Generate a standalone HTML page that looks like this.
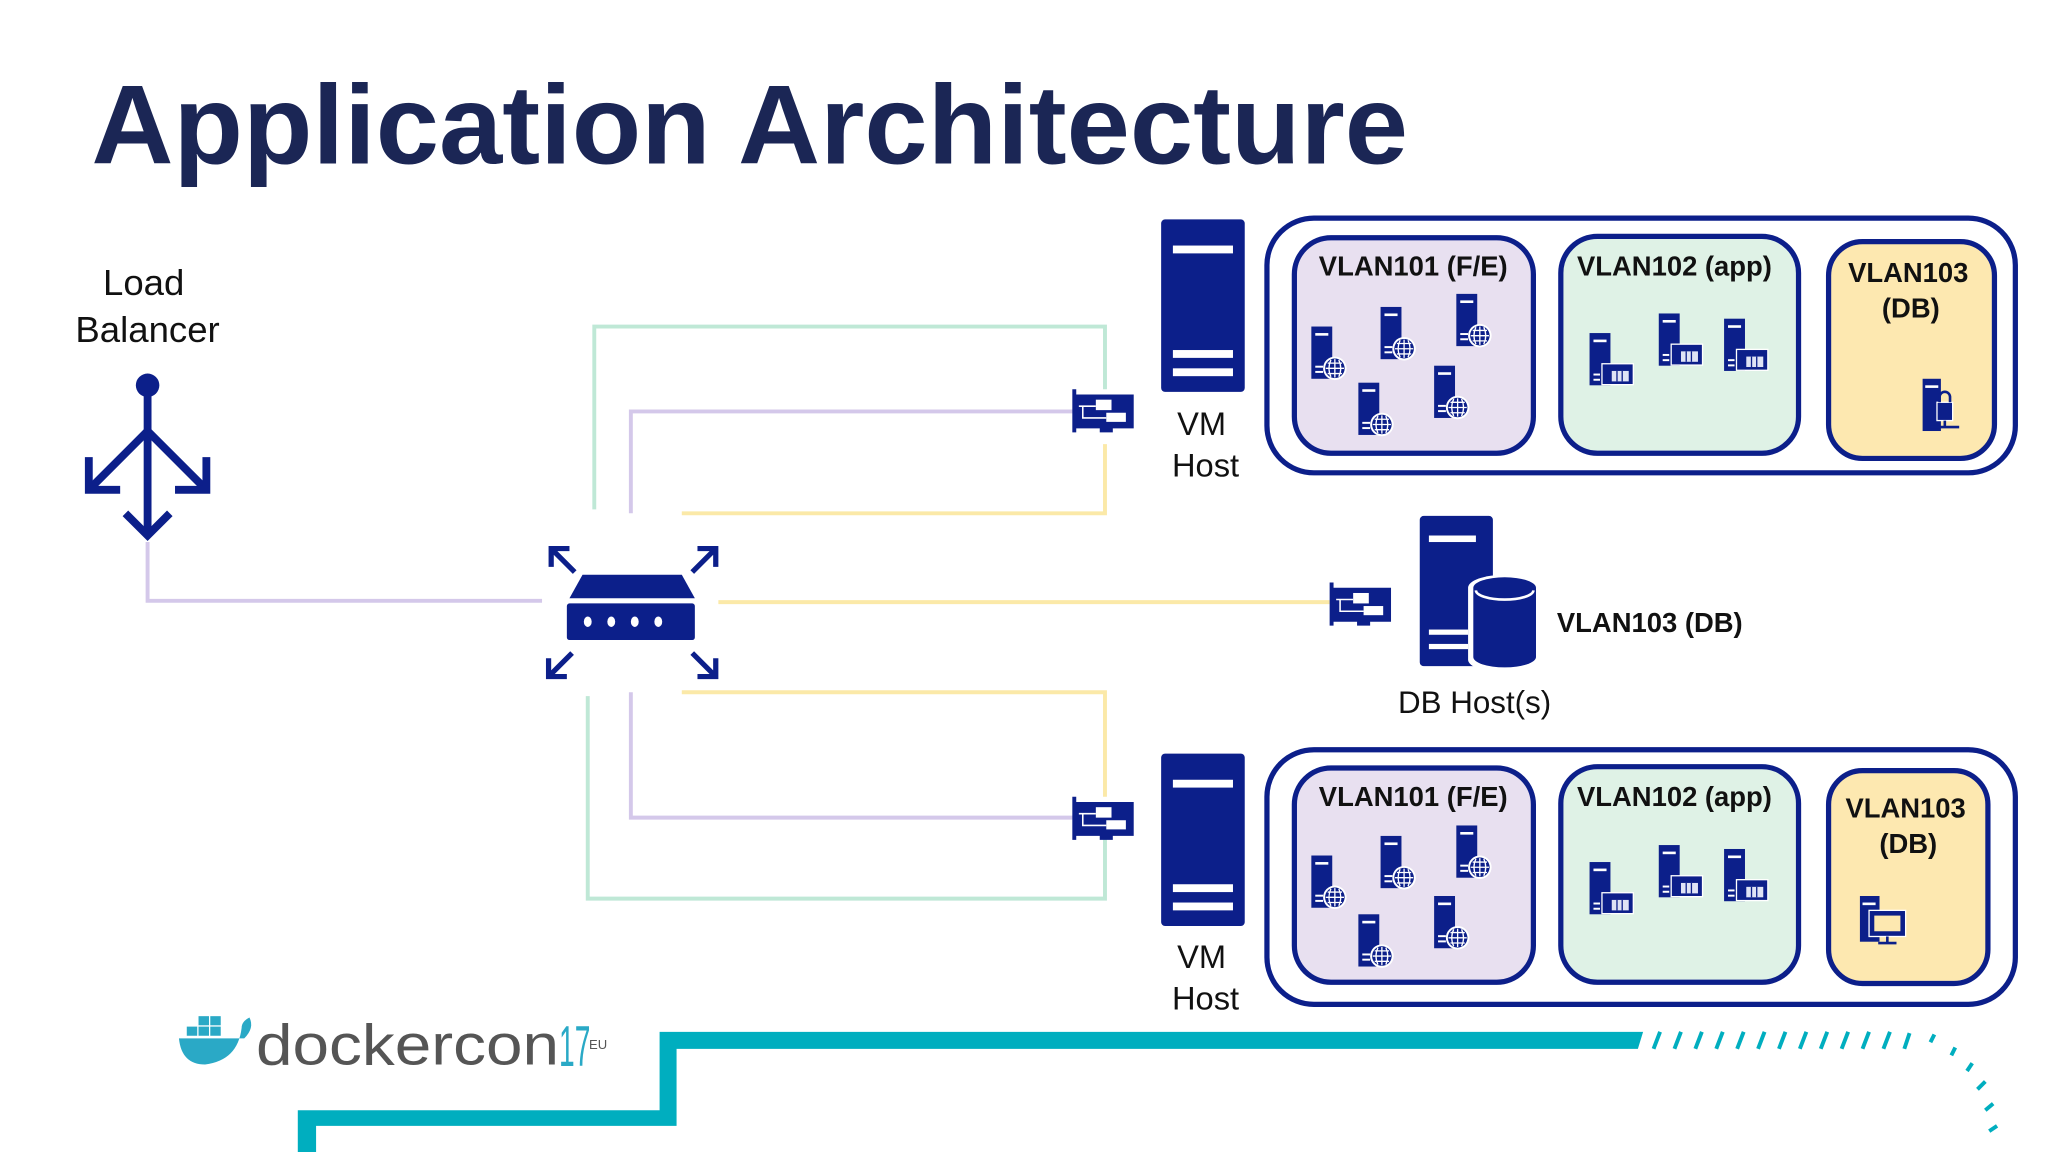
<!DOCTYPE html>
<html><head><meta charset="utf-8"><style>
html,body{margin:0;padding:0;background:#fff;}
svg{display:block;}
text{font-family:"Liberation Sans",Arial,sans-serif;}
</style></head><body>
<svg width="2048" height="1152" viewBox="0 0 1568 882" xmlns="http://www.w3.org/2000/svg">
<defs>
  <g id="web">
    <rect x="0" y="0" width="16" height="40" fill="#0c1f8a"/>
    <rect x="3" y="5" width="10" height="2" fill="#fff"/>
    <rect x="3" y="30" width="6" height="1.5" fill="#fff"/>
    <rect x="3" y="34" width="6" height="1.5" fill="#fff"/>
    <circle cx="18" cy="32" r="9" fill="#fff"/>
    <circle cx="18" cy="32" r="7.5" fill="#0c1f8a"/>
    <path d="M11 32h14M18 25v14M12.5 28h11M12.5 36h11M15 25.5q-3 6.5 0 13M21 25.5q3 6.5 0 13" stroke="#fff" stroke-width="1" fill="none"/>
  </g>
  <g id="app">
    <rect x="0" y="0" width="16" height="40" fill="#0c1f8a"/>
    <rect x="3" y="5" width="10" height="2" fill="#fff"/>
    <rect x="9" y="23" width="25" height="17" fill="#fff"/>
    <rect x="10" y="24" width="23" height="15" fill="#0c1f8a"/>
    <rect x="17" y="29" width="13" height="8" fill="#dfe3f5"/>
    <path d="M21 29v8M25 29v8" stroke="#0c1f8a" stroke-width="1"/>
    <rect x="3" y="31" width="5" height="1.5" fill="#fff"/>
    <rect x="3" y="35" width="5" height="1.5" fill="#fff"/>
  </g>
  <g id="nic">
    <path d="M0 0h3v4h44v26h-16v3h-10v-3h-18v3h-3z" fill="#0c1f8a"/>
    <rect x="18" y="8" width="12" height="8" fill="#fff"/>
    <rect x="26" y="18" width="15" height="7" fill="#fff"/>
    <path d="M5 13h13M8 13v9h18" stroke="#fff" stroke-width="1.2" fill="none"/>
  </g>
  <g id="srv">
    <rect x="0" y="0" width="64" height="132" rx="3" fill="#0c1f8a"/>
    <rect x="9" y="20" width="46" height="6" fill="#fff"/>
    <rect x="9" y="100" width="46" height="6" fill="#fff"/>
    <rect x="9" y="114" width="46" height="6" fill="#fff"/>
  </g>
</defs>

<rect width="1568" height="882" fill="#fff"/>

<text x="70" y="125" font-size="86" font-weight="bold" fill="#1b2655" textLength="1008" lengthAdjust="spacingAndGlyphs">Application Architecture</text>

<!-- Load balancer -->
<text x="110" y="226" font-size="28" text-anchor="middle" fill="#111">Load</text>
<text x="113" y="262" font-size="28" text-anchor="middle" fill="#111">Balancer</text>
<g stroke="#0c1f8a" stroke-width="6" fill="none" stroke-linecap="butt">
  <circle cx="113" cy="295" r="9" fill="#0c1f8a" stroke="none"/>
  <path d="M113 300V408"/>
  <path d="M113 330L70 373M113 330L156 373"/>
  <path d="M68 350V375H92M158 350V375H134"/>
  <path d="M96 393L113 410L130 393"/>
</g>

<!-- connectors -->
<g fill="none" stroke-width="3">
  <path d="M113 415V460H415" stroke="#d4c8ea"/>
  <path d="M455 390V250H846V298" stroke="#bfe8d6"/>
  <path d="M483 393V315H822" stroke="#d4c8ea"/>
  <path d="M522 393H846V340" stroke="#fbe9a8"/>
  <path d="M550 461H1018" stroke="#fbe9a8"/>
  <path d="M522 530H846V610" stroke="#fbe9a8"/>
  <path d="M483 530V626H822" stroke="#d4c8ea"/>
  <path d="M450 533V688H846V642" stroke="#bfe8d6"/>
</g>

<!-- switch -->
<g fill="#0c1f8a">
  <path d="M446 440H522L532 458H436Z"/>
  <rect x="434" y="462" width="98" height="28" rx="2"/>
  <g fill="#fff"><ellipse cx="450" cy="476" rx="3" ry="4"/><ellipse cx="468" cy="476" rx="3" ry="4"/><ellipse cx="486" cy="476" rx="3" ry="4"/><ellipse cx="504" cy="476" rx="3" ry="4"/></g>
</g>
<g stroke="#0c1f8a" stroke-width="4" fill="none">
  <path d="M422 420L440 438M422 434V420H436"/>
  <path d="M548 420L530 438M548 434V420H534"/>
  <path d="M420 518L438 500M420 504V518H434"/>
  <path d="M548 518L530 500M548 504V518H534"/>
</g>

<!-- NICs -->
<use href="#nic" x="821" y="298"/>
<use href="#nic" x="821" y="610"/>
<use href="#nic" x="1018" y="446"/>

<!-- VM hosts -->
<use href="#srv" x="889" y="168"/>
<text x="920" y="333" font-size="25" text-anchor="middle" fill="#111">VM</text>
<text x="923" y="365" font-size="25" text-anchor="middle" fill="#111">Host</text>
<use href="#srv" x="889" y="577"/>
<text x="920" y="741" font-size="25" text-anchor="middle" fill="#111">VM</text>
<text x="923" y="773" font-size="25" text-anchor="middle" fill="#111">Host</text>

<!-- DB host -->
<rect x="1087" y="395" width="56" height="115" rx="3" fill="#0c1f8a"/>
<rect x="1094" y="410" width="36" height="5" fill="#fff"/>
<rect x="1094" y="482" width="30" height="4" fill="#fff"/>
<rect x="1094" y="493" width="30" height="4" fill="#fff"/>
<path d="M1124 450a28 10 0 0 1 56 0V505a28 10 0 0 1 -56 0Z" fill="#fff"/>
<path d="M1128 450a24 8 0 0 1 48 0V503a24 8 0 0 1 -48 0Z" fill="#0c1f8a"/>
<path d="M1130 452a22 7 0 0 0 44 0" stroke="#fff" stroke-width="2" fill="none"/>
<text x="1192" y="484" font-size="21" font-weight="bold" fill="#111">VLAN103 (DB)</text>
<text x="1129" y="546" font-size="24" text-anchor="middle" fill="#111">DB Host(s)</text>

<!-- top container -->
<rect x="970" y="167" width="573" height="195" rx="36" fill="#fff" stroke="#0c1f8a" stroke-width="4"/>
<rect x="991" y="182" width="183" height="165" rx="28" fill="#e8e0f0" stroke="#0c1f8a" stroke-width="4"/>
<rect x="1195" y="181" width="182" height="166" rx="28" fill="#dff2e6" stroke="#0c1f8a" stroke-width="4"/>
<rect x="1400" y="185" width="127" height="166" rx="26" fill="#fde8b0" stroke="#0c1f8a" stroke-width="4"/>
<text x="1082" y="211" font-size="21" font-weight="bold" text-anchor="middle" fill="#111">VLAN101 (F/E)</text>
<text x="1282" y="211" font-size="21" font-weight="bold" text-anchor="middle" fill="#111">VLAN102 (app)</text>
<text x="1461" y="216" font-size="21" font-weight="bold" text-anchor="middle" fill="#111">VLAN103</text>
<text x="1463" y="243" font-size="21" font-weight="bold" text-anchor="middle" fill="#111">(DB)</text>
<use href="#web" x="1004" y="250"/>
<use href="#web" x="1057" y="235"/>
<use href="#web" x="1115" y="225"/>
<use href="#web" x="1040" y="293"/>
<use href="#web" x="1098" y="280"/>
<use href="#app" x="1217" y="255"/>
<use href="#app" x="1270" y="240"/>
<use href="#app" x="1320" y="244"/>
<g>
  <rect x="1472" y="290" width="14" height="40" fill="#0c1f8a"/>
  <rect x="1474" y="295" width="10" height="2" fill="#fff"/>
  <rect x="1483" y="308" width="12" height="14" fill="#0c1f8a" stroke="#fff" stroke-width="1"/>
  <path d="M1485 308v-4a4 4 0 0 1 8 0v4" stroke="#0c1f8a" stroke-width="2" fill="none"/>
  <path d="M1478 327h22M1489 322v5" stroke="#0c1f8a" stroke-width="2"/>
</g>

<!-- bottom container -->
<rect x="970" y="574" width="573" height="195" rx="36" fill="#fff" stroke="#0c1f8a" stroke-width="4"/>
<rect x="991" y="588" width="183" height="164" rx="28" fill="#e8e0f0" stroke="#0c1f8a" stroke-width="4"/>
<rect x="1195" y="587" width="182" height="165" rx="28" fill="#dff2e6" stroke="#0c1f8a" stroke-width="4"/>
<rect x="1400" y="590" width="122" height="163" rx="26" fill="#fde8b0" stroke="#0c1f8a" stroke-width="4"/>
<text x="1082" y="617" font-size="21" font-weight="bold" text-anchor="middle" fill="#111">VLAN101 (F/E)</text>
<text x="1282" y="617" font-size="21" font-weight="bold" text-anchor="middle" fill="#111">VLAN102 (app)</text>
<text x="1459" y="626" font-size="21" font-weight="bold" text-anchor="middle" fill="#111">VLAN103</text>
<text x="1461" y="653" font-size="21" font-weight="bold" text-anchor="middle" fill="#111">(DB)</text>
<use href="#web" x="1004" y="655"/>
<use href="#web" x="1057" y="640"/>
<use href="#web" x="1115" y="632"/>
<use href="#web" x="1040" y="700"/>
<use href="#web" x="1098" y="686"/>
<use href="#app" x="1217" y="660"/>
<use href="#app" x="1270" y="647"/>
<use href="#app" x="1320" y="650"/>
<g>
  <rect x="1424" y="686" width="15" height="35" fill="#0c1f8a"/>
  <rect x="1426" y="691" width="10" height="2" fill="#fff"/>
  <rect x="1431" y="697" width="28" height="20" fill="#0c1f8a" stroke="#fff" stroke-width="1"/>
  <rect x="1435" y="701" width="20" height="12" fill="#fde8b0"/>
  <path d="M1445 717v4M1438 722h14" stroke="#0c1f8a" stroke-width="2"/>
</g>

<!-- dockercon logo -->
<g fill="#2aa9c6">
  <path d="M137 795h50q8-8 4-16q-6 3-6 8q-3 25-28 28q-18 0-20-20z"/>
  <rect x="143" y="786" width="8" height="7"/><rect x="152" y="786" width="8" height="7"/><rect x="161" y="786" width="8" height="7"/>
  <rect x="152" y="778" width="8" height="7"/><rect x="161" y="778" width="8" height="7"/>
</g>
<text x="196" y="815" font-size="44" fill="#555" textLength="232" lengthAdjust="spacingAndGlyphs">dockercon</text>
<text x="428" y="816" font-size="44" fill="#2aa9c6" textLength="24" lengthAdjust="spacingAndGlyphs">17</text>
<text x="451" y="803" font-size="10" fill="#555">EU</text>

<!-- teal band -->
<path d="M505 790H1258L1254 803H518V862H242V882H228V850H505Z" fill="#00aebf"/>
<g stroke="#00aebf" stroke-width="3">
  <path d="M1266 803l5-13M1282 803l5-13M1298 803l5-13M1314 803l5-13M1330 803l5-13M1346 803l5-13M1362 803l5-13M1378 803l5-13M1394 803l5-13M1410 803l5-13M1426 803l5-13M1442 803l5-13M1458 803l4-12"/>
  <path d="M1478 798l3-6M1494 808l3-6M1506 820l4-6M1514 834l6-6M1520 850l6-5M1523 866l6-4"/>
</g>
</svg>
</body></html>
